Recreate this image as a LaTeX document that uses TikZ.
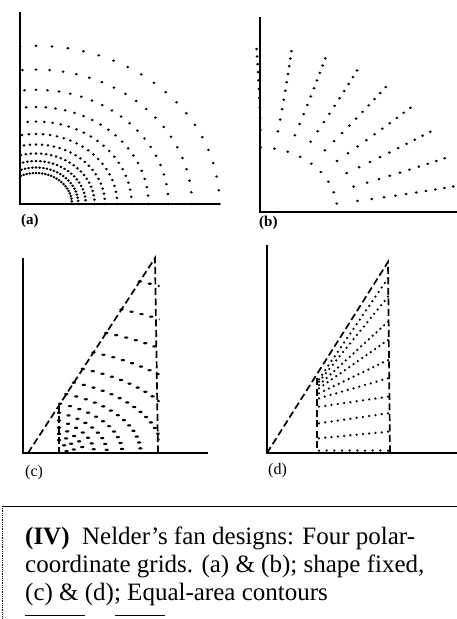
\documentclass[tikz,border=0pt]{standalone}
\usepackage{fontspec}
\setmainfont{Liberation Serif}
\begin{document}
\begin{tikzpicture}[x=1pt,y=-1pt,
  axis/.style={line width=1.7pt},
  bnd/.style={line width=1.7pt, dash pattern=on 7pt off 3.5pt},
  lab/.style={font=\fontsize{15}{15}\selectfont, anchor=base west, inner sep=0pt}]
\useasboundingbox (0,0) rectangle (457,619);

% (a) rings in geometric steps, rays every 5 degrees
\draw[axis] (20,12) |- (220,204);
\begin{scope}
  \clip (19,0) rectangle (230,205);
  \begin{scope}[shift={(36,204)}, xscale=1.16, yscale=-1]
    \foreach \k in {0,...,10}
      \foreach \a in {0,5,...,120}
        \fill ({31*1.177^\k*cos(\a)},{31*1.177^\k*sin(\a)}) circle (1.3);
  \end{scope}
\end{scope}
\node[lab, font=\fontsize{15}{15}\selectfont\bfseries] (la) at (21,224) {(a)};

% (b) nine rays, points closer outwards
\draw[axis] (260,17) |- (457,212);
\begin{scope}[shift={(260,212)}, xscale=1.2, yscale=-1]
  \foreach \j in {0,...,8}
    \foreach \i in {0,...,10} {
      \pgfmathsetmacro\t{(\i/10+0.00001)^0.75}
      \fill ({(64.5+98.5*\t)*cos(7.5+10.25*\j+1.5*\t)},{(64.5+98.5*\t)*sin(7.5+10.25*\j+1.5*\t)}) circle (1.3);
    }
\end{scope}
\node[lab, font=\fontsize{15}{15}\selectfont\bfseries] (lb) at (259,226) {(b)};

% (c) equal-area arcs in a wedge
\draw[axis] (23,258) |- (208,453);
\coordinate (oc) at (28,453);
\coordinate (tc) at (155,258);
\coordinate (bc) at (158,453);
\coordinate (ic) at (59,405);
\coordinate (jc) at (59,453);
\draw[bnd] (oc) -- (tc) -- (bc);
\draw[bnd] (ic) -- (jc);
\begin{scope}
  \clip (56,456) -- (56,398) -- (150,250) -- (159.5,250) -- (159.5,456) -- cycle;
  \begin{scope}[shift={(28,453)}, xscale=1.8, yscale=-1]
    \foreach \k in {0,...,12} {
      \pgfmathsetmacro\R{21.5*1.195^\k}
      \pgfmathsetmacro\st{6/\R*57.3}
      \pgfmathsetmacro\ptop{min(70.1,acos(min(1,17.2/\R)))}
      \pgfmathtruncatemacro\n{\ptop/\st}
      \foreach \i in {0,...,\n}
        \fill ({\R*cos(\ptop-\i*\st)},{\R*sin(\ptop-\i*\st)}) circle (1.2);
    }
  \end{scope}
\end{scope}
\node[lab, font=\fontsize{16}{16}\selectfont] (lc) at (25,476) {(c)};

% (d) equal-area rows in a wedge
\draw[axis] (267,245) |- (457,453);
\coordinate (od) at (267,453);
\coordinate (td) at (388,262);
\coordinate (bd) at (390,453);
\coordinate (id) at (317,378);
\coordinate (jd) at (317,453);
\draw[bnd] (od) -- (td) -- (bd);
\draw[bnd] (id) -- (jd);
\foreach \ya/\yb/\n in {379.3/278.3/22, 381.7/296.7/20, 385/321.7/18,
    388.3/340/16, 393.3/360/14, 398.3/378.3/12, 406.7/396.7/11,
    423.3/413.3/11, 438.3/431.7/11, 450.5/450.5/9}
  \foreach \i in {0,...,\n}
    \fill ({319+69*\i/\n},{\ya+(\yb-\ya)*\i/\n}) circle (1.25);
\node[lab, font=\fontsize{16}{16}\selectfont] (ld) at (268,474) {(d)};

% caption box
\draw[line width=0.9pt] (2,506) -- (457,506);
\draw[line width=0.8pt, densely dotted] (2,506) -- (2,619);
\draw[line width=0.8pt] (25,615) -- (85,615) (115,615) -- (165,615);
\node[anchor=base west, inner sep=0pt, align=left,
  font=\fontsize{25}{28}\selectfont] (cap) at (25,600)
  {\textbf{(IV)}\ \ Nelder’s fan designs: Four polar-\\
   coordinate grids. (a) \& (b); shape fixed,\\
   (c) \& (d); Equal-area contours};
\end{tikzpicture}
\end{document}
